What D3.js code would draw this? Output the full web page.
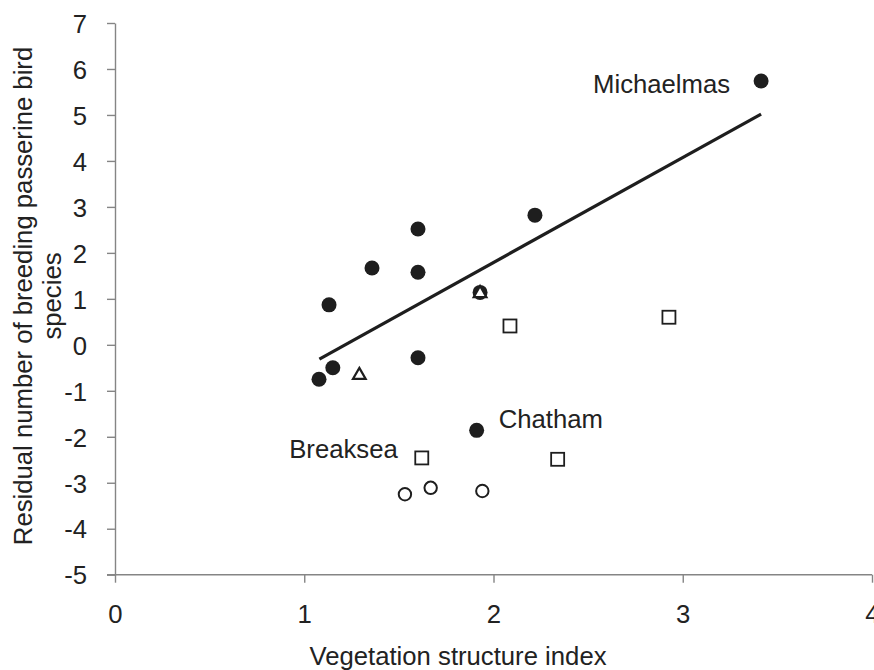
<!DOCTYPE html>
<html>
<head>
<meta charset="utf-8">
<script src="https://cdn.jsdelivr.net/npm/d3@7/dist/d3.min.js"></script>
<style>
  html, body { margin: 0; padding: 0; background: #fff; }
  svg text { font-family: "Liberation Sans", Arial, sans-serif; fill: #222; }
</style>
</head>
<body>
<svg id="chart" width="874" height="670"></svg>
<script>
// Island sites: vegetation structure index vs residual passerine richness
const filledSites = [
  [1.131, 0.87], [1.358, 1.67], [1.601, 2.52], [1.601, 1.58], [1.601, -0.28],
  [2.219, 2.82], [1.078, -0.75], [1.151, -0.50], [1.911, -1.86], [3.414, 5.74],
  [1.929, 1.14]
];
const triangleSites = [[1.929, 1.14], [1.291, -0.64]];
const squareSites = [[2.087, 0.41], [2.927, 0.60], [1.621, -2.46], [2.339, -2.49]];
const openSites = [[1.532, -3.25], [1.668, -3.11], [1.941, -3.18]];
const fitLine = [[1.080, -0.31], [3.414, 5.02]];
const siteLabels = [
  { name: "Michaelmas", at: [3.414, 5.74] },
  { name: "Chatham", at: [1.911, -1.86] },
  { name: "Breaksea", at: [1.621, -2.46] }
];
const xTicks = [0, 1, 2, 3, 4];
const yTicks = [-5, -4, -3, -2, -1, 0, 1, 2, 3, 4, 5, 6, 7];

const svg = d3.select("#chart");
const ink = "#1e1e1e";
const axisGrey = "#858585";
const fontPx = 25.7;
const plainNumber = d => String(d);   // hyphen-minus for negatives

const x = d3.scaleLinear().domain([0, 4]).range([115, 872]);
const y = d3.scaleLinear().domain([-5, 7]).range([574.7, 23]);

// Axes
const xAxis = svg.append("g").attr("transform", `translate(0,${y(-5)})`)
  .call(d3.axisBottom(x).tickValues(xTicks).tickSize(8).tickSizeOuter(0).tickPadding(22).tickFormat(plainNumber));
const yAxis = svg.append("g").attr("transform", `translate(${x(0)},0)`)
  .call(d3.axisLeft(y).tickValues(yTicks).tickSize(8).tickSizeOuter(0).tickPadding(20).tickFormat(plainNumber));
[xAxis, yAxis].forEach(g => {
  g.selectAll("path.domain").attr("stroke", axisGrey).attr("stroke-width", 1.4);
  g.selectAll(".tick line").attr("stroke", axisGrey).attr("stroke-width", 1.4);
  g.selectAll(".tick text").attr("font-size", fontPx).attr("fill", ink)
    .style("font-family", "'Liberation Sans', Arial, sans-serif");
});
// x axis line starts where the y ticks begin
xAxis.select("path.domain").attr("d", `M${x(0) - 8},0H${x(4)}`);
yAxis.selectAll(".tick text").attr("dy", "0.36em");

// Regression line
svg.append("line")
  .attr("x1", x(fitLine[0][0])).attr("y1", y(fitLine[0][1]))
  .attr("x2", x(fitLine[1][0])).attr("y2", y(fitLine[1][1]))
  .attr("stroke", ink).attr("stroke-width", 3.2);

// Markers
svg.append("g").selectAll("circle").data(filledSites).join("circle")
  .attr("cx", d => x(d[0])).attr("cy", d => y(d[1])).attr("r", 7.5).attr("fill", ink);

svg.append("g").selectAll("circle").data(openSites).join("circle")
  .attr("cx", d => x(d[0])).attr("cy", d => y(d[1])).attr("r", 6.2)
  .attr("fill", "#fff").attr("stroke", ink).attr("stroke-width", 2);

svg.append("g").selectAll("rect").data(squareSites).join("rect")
  .attr("x", d => x(d[0]) - 6.5).attr("y", d => y(d[1]) - 6.5)
  .attr("width", 13).attr("height", 13)
  .attr("fill", "#fff").attr("stroke", ink).attr("stroke-width", 1.8);

const tri = d3.symbol().type(d3.symbolTriangle).size(70);
svg.append("g").selectAll("path").data(triangleSites).join("path")
  .attr("transform", d => `translate(${x(d[0])},${y(d[1]) + 1})`)
  .attr("d", tri).attr("fill", "#fff").attr("stroke", ink)
  .attr("stroke-width", 2.2).attr("stroke-linejoin", "miter");

// Site names
const labelOffsets = {
  Michaelmas: { dx: -31, dy: 12, anchor: "end" },
  Chatham: { dx: 22, dy: -2, anchor: "start" },
  Breaksea: { dx: -24, dy: 0, anchor: "end" }
};
svg.append("g").selectAll("text").data(siteLabels).join("text")
  .attr("x", d => x(d.at[0]) + labelOffsets[d.name].dx)
  .attr("y", d => y(d.at[1]) + labelOffsets[d.name].dy)
  .attr("text-anchor", d => labelOffsets[d.name].anchor)
  .attr("font-size", fontPx).attr("fill", ink)
  .text(d => d.name);

// Axis titles
svg.append("text").attr("x", 458).attr("y", 665).attr("text-anchor", "middle")
  .attr("font-size", fontPx).attr("fill", ink).text("Vegetation structure index");

const yTitle = svg.append("text")
  .attr("transform", "translate(32,296) rotate(-90)")
  .attr("text-anchor", "middle").attr("font-size", fontPx).attr("fill", ink);
yTitle.append("tspan").attr("x", 0).attr("y", 0).text("Residual number of breeding passerine bird");
yTitle.append("tspan").attr("x", 0).attr("y", 29).text("species");
</script>
</body>
</html>
